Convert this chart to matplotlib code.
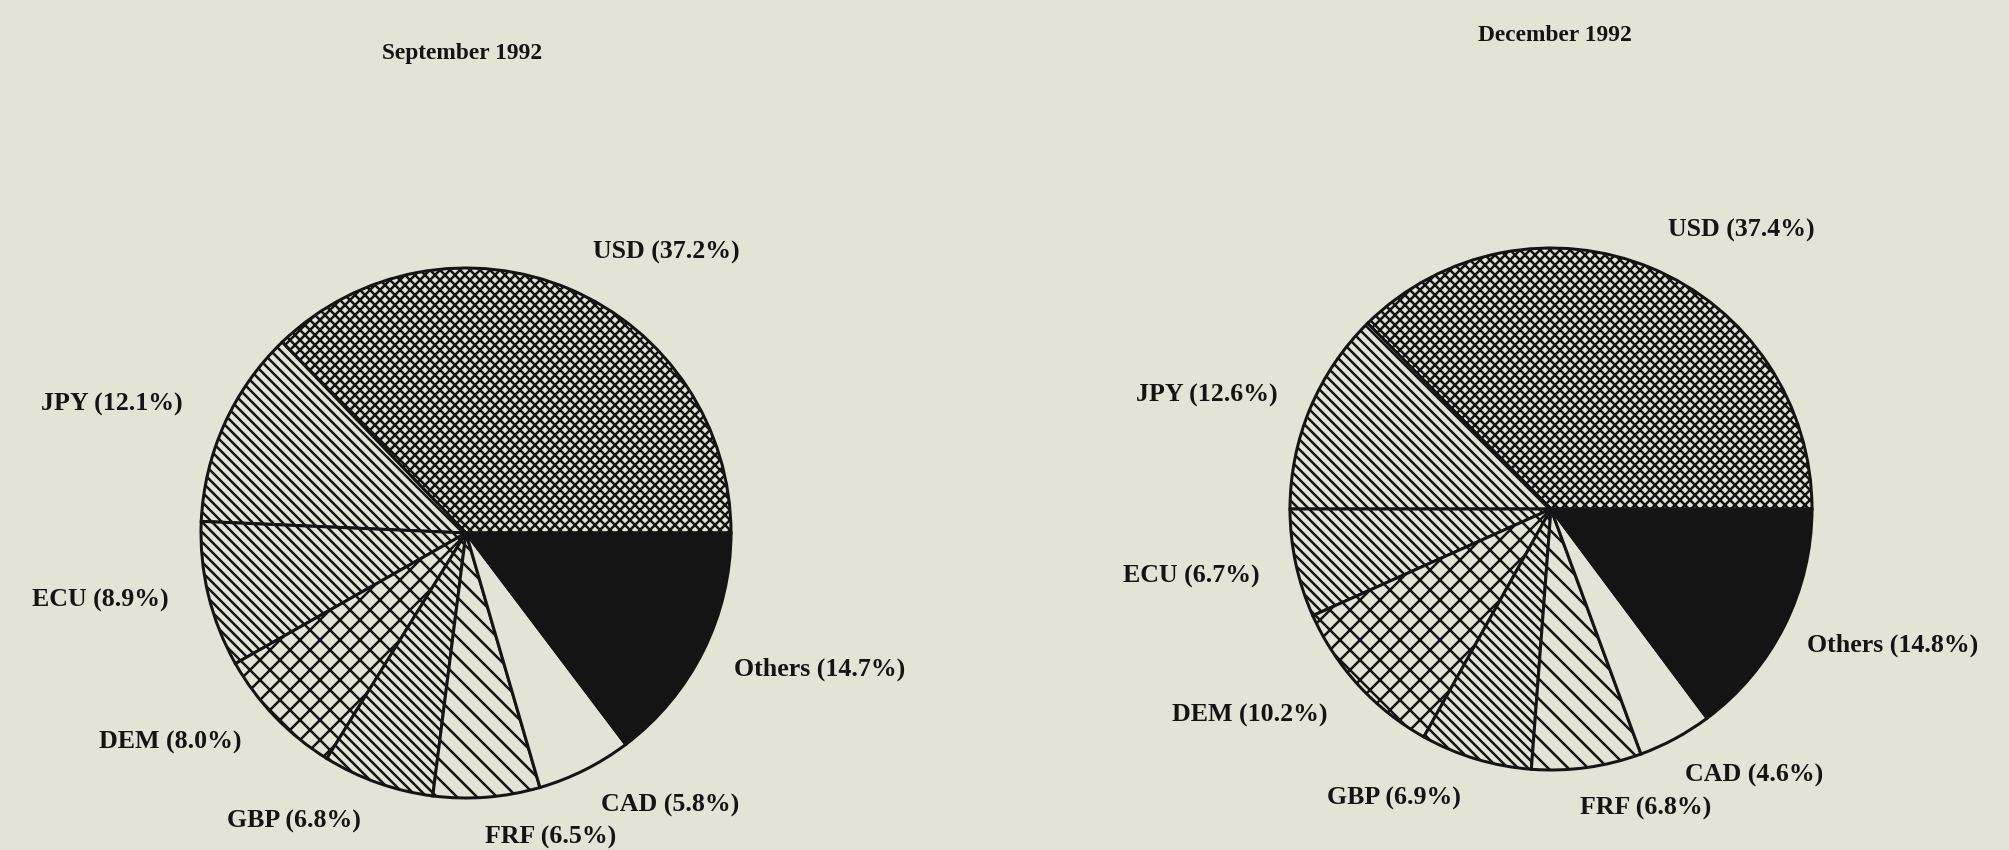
import matplotlib
matplotlib.use("Agg")
import matplotlib.pyplot as plt

# data (shares in %)
currencies = ["USD", "JPY", "ECU", "DEM", "GBP", "FRF", "CAD", "Others"]
sep_1992 = [37.2, 12.1, 8.9, 8.0, 6.8, 6.5, 5.8, 14.7]
dec_1992 = [37.4, 12.6, 6.7, 10.2, 6.9, 6.8, 4.6, 14.8]

PAPER = "#e3e4d6"
INK = "#141414"

# fill style per currency, same for both months
# diagonal hatch spacing is dpi / (3 * n_chars) px, so dpi is picked for it
hatches = ["xx", "\\\\", "\\\\", "x", "\\\\", "\\", "", ""]
faces = [PAPER] * 7 + [INK]

# layout, in pixels from the top-left of the 2009x850 page
W, H = 2009, 850
DPI = 60
panels = [
    {
        "title": "September 1992", "title_xy": (462, 53),
        "values": sep_1992, "center": (466, 533), "radius": 265,
        "label_xy": [(666, 252), (112, 404), (100, 600), (170, 742),
                     (294, 821), (551, 837), (670, 805), (820, 669)],
    },
    {
        "title": "December 1992", "title_xy": (1555, 35),
        "values": dec_1992, "center": (1551, 509), "radius": 261,
        "label_xy": [(1741, 230), (1207, 395), (1191, 576), (1250, 715),
                     (1394, 798), (1646, 808), (1754, 775), (1893, 645)],
    },
]

plt.rcParams["hatch.linewidth"] = 3.0
plt.rcParams["font.family"] = ["Liberation Serif", "DejaVu Serif"]

fig = plt.figure(figsize=(W / DPI, H / DPI), dpi=DPI, facecolor=PAPER)
ax = fig.add_axes([0, 0, 1, 1])
ax.set_facecolor(PAPER)

for p in panels:
    cx, cy = p["center"]
    wedges, _ = ax.pie(
        p["values"], startangle=0, counterclock=True,
        colors=faces, hatch=hatches, radius=p["radius"],
        center=(cx, H - cy), frame=True,
        wedgeprops=dict(edgecolor=INK, linewidth=3.6),
    )
    tx, ty = p["title_xy"]
    ax.text(tx, H - ty, p["title"], ha="center", va="center",
            fontsize=28, fontweight="bold", color=INK)
    for name, v, (lx, ly) in zip(currencies, p["values"], p["label_xy"]):
        ax.text(lx, H - ly, f"{name} ({v:.1f}%)", ha="center", va="center",
                fontsize=31, fontweight="bold", color=INK)

ax.set_xlim(0, W)
ax.set_ylim(0, H)
ax.set_aspect("equal")
ax.axis("off")

fig.savefig("out.png", dpi=DPI, facecolor=PAPER)
